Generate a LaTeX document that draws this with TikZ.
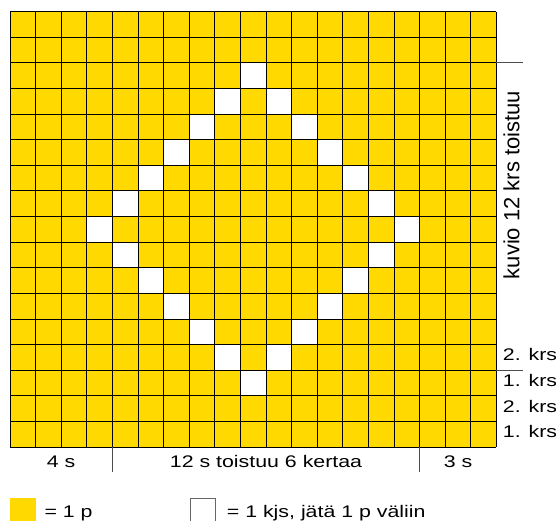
\documentclass[tikz,border=0pt]{standalone}
\usepackage{fontspec}
\setmainfont{Liberation Sans}
\newfontfamily\chartfont{Liberation Sans}[FakeStretch=1.27]
\usepackage{tikz}
\definecolor{yarnyellow}{RGB}{255,217,0}

\begin{document}
\begin{tikzpicture}[
    x=1pt, y=-1pt,
    gridline/.style={draw=black, line width=0.8pt},
    tickline/.style={draw=black!70, line width=0.9pt},
    chartlabel/.style={font=\chartfont\fontsize{16.8}{20}\selectfont, inner sep=0pt},
    sidelabel/.style={font=\fontsize{22}{26}\selectfont, inner sep=0pt, rotate=90, anchor=base},
    swatch/.style={minimum size=25.6pt, inner sep=0pt, outer sep=0pt, anchor=north west}
]
    \useasboundingbox (0,0) rectangle (556,521);

    % Chart: 19 stitches x 17 rows
    \fill[yarnyellow] (10,11.7) rectangle (496.4,446.9);

    % Eyelets (diamond)
    \foreach \r in {3,...,15} {
        \pgfmathtruncatemacro{\d}{6-abs(\r-9)}
        \pgfmathtruncatemacro{\a}{10-\d}
        \pgfmathtruncatemacro{\b}{10+\d}
        \fill[white] ({10+(\a-1)*25.6},{11.7+(\r-1)*25.6}) rectangle +(25.6,25.6);
        \fill[white] ({10+(\b-1)*25.6},{11.7+(\r-1)*25.6}) rectangle +(25.6,25.6);
    }

    % Grid
    \foreach \i in {0,...,19}
        \draw[gridline] ({10+\i*25.6},11.7) -- ({10+\i*25.6},446.9);
    \foreach \j in {0,...,17}
        \draw[gridline] (10,{11.7+\j*25.6}) -- (496.4,{11.7+\j*25.6});

    % Stitch counts
    \draw[tickline] (112.4,446.9) -- (112.4,472.3);
    \draw[tickline] (419.6,446.9) -- (419.6,472.3);
    \node[chartlabel, anchor=base] (edge_left) at (61.2,467.3) {4 s};
    \node[chartlabel, anchor=base] (rep_st) at (266,467.3) {12 s toistuu 6 kertaa};
    \node[chartlabel, anchor=base] (edge_right) at (458,467.3) {3 s};

    % Row counts
    \draw[tickline] (496.4,62.9) -- (522.5,62.9);
    \draw[tickline] (496.4,370.1) -- (522.5,370.1);
    \node[sidelabel] (rep_rows) at (519.3,185) {kuvio 12 krs toistuu};
    \node[chartlabel, anchor=base west] (row_a) at (502.7,360.7) {2. krs};
    \node[chartlabel, anchor=base west] (row_b) at (502.7,386.5) {1. krs};
    \node[chartlabel, anchor=base west] (row_c) at (502.7,412.2) {2. krs};
    \node[chartlabel, anchor=base west] (row_d) at (502.7,437.5) {1. krs};

    % Key
    \node[swatch, fill=yarnyellow] (key_knit) at (10,498) {};
    \node[chartlabel, anchor=base west] (txt_knit) at (44.3,517.3) {= 1 p};
    \node[swatch, draw=black!60, line width=0.8pt, fill=white] (key_yo) at (190,498) {};
    \node[chartlabel, anchor=base west] (txt_yo) at (226.7,517.3) {= 1 kjs, jätä 1 p väliin};

\end{tikzpicture}
\end{document}
